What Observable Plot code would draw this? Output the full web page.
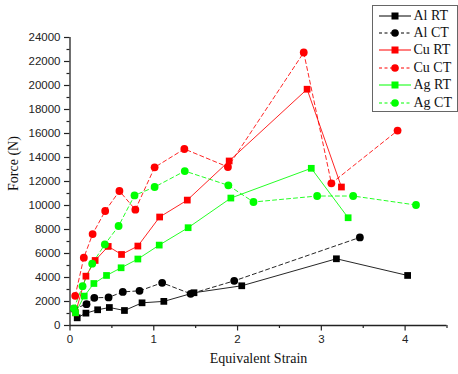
<!DOCTYPE html>
<html>
<head>
<meta charset="utf-8">
<script src="https://cdn.jsdelivr.net/npm/d3@7"></script>
<script src="https://cdn.jsdelivr.net/npm/@observablehq/plot@0.6"></script>
<style>
  html, body { margin: 0; padding: 0; background: #fff; }
  #wrap { position: relative; width: 458px; height: 374px; overflow: hidden; }
  #legend { position: absolute; left: 371.5px; top: 4.5px; width: 86px; height: 107px; box-sizing: border-box;
    border: 1px solid #666; background: #fff; padding-top: 1.5px; font-family: "Liberation Serif", "Times New Roman", serif; font-size: 14px; color: #111; }
  .row { height: 17.4px; display: flex; align-items: center; }
  .row svg { margin-left: 6px; margin-right: 3px; flex: none; }
</style>
</head>
<body>
<div id="wrap"><div id="legend"></div></div>
<script>
// Series values
const alRT_x = [0.086, 0.19, 0.33, 0.47, 0.65, 0.86, 1.12, 1.48, 2.05, 3.18, 4.03];
const alRT_y = [640, 1030, 1310, 1500, 1250, 1890, 2010, 2730, 3310, 5560, 4170];
const alCT_x = [0.048, 0.197, 0.29, 0.46, 0.63, 0.83, 1.10, 1.44, 1.96, 3.46];
const alCT_y = [1380, 1780, 2310, 2340, 2800, 2890, 3560, 2640, 3720, 7340];
const cuRT_x = [0.066, 0.19, 0.30, 0.456, 0.615, 0.81, 1.07, 1.40, 1.90, 2.83, 3.24];
const cuRT_y = [1060, 4110, 5420, 6590, 5920, 6620, 9040, 10450, 13710, 19690, 11540];
const cuCT_x = [0.062, 0.165, 0.27, 0.42, 0.59, 0.78, 1.01, 1.365, 1.885, 2.79, 3.12, 3.91];
const cuCT_y = [2470, 5650, 7620, 9540, 11210, 9650, 13180, 14710, 13210, 22750, 11850, 16240];
const agRT_x = [0.066, 0.17, 0.285, 0.436, 0.61, 0.81, 1.065, 1.41, 1.92, 2.88, 3.32];
const agRT_y = [1060, 2450, 3500, 4170, 4810, 5540, 6700, 8150, 10620, 13100, 8980];
const agCT_x = [0.046, 0.15, 0.265, 0.416, 0.58, 0.77, 1.01, 1.37, 1.89, 2.19, 2.95, 3.38, 4.13];
const agCT_y = [1420, 3280, 5150, 6760, 8290, 10840, 11540, 12870, 11680, 10290, 10790, 10790, 10040];

const seriesNames = ["Al RT", "Al CT", "Cu RT", "Cu CT", "Ag RT", "Ag CT"];
const seriesColors = ["#000000", "#000000", "#ff0000", "#ff0000", "#00ff00", "#00ff00"];
const xMajorTicks = [0, 1, 2, 3, 4];
const xMinorTicks = [0.5, 1.5, 2.5, 3.5, 4.5];
const yMajorTicks = [0, 2000, 4000, 6000, 8000, 10000, 12000, 14000, 16000, 18000, 20000, 22000, 24000];
const yMinorTicks = [1000, 3000, 5000, 7000, 9000, 11000, 13000, 15000, 17000, 19000, 21000, 23000];

const xs = [alRT_x, alCT_x, cuRT_x, cuCT_x, agRT_x, agCT_x];
const ys = [alRT_y, alCT_y, cuRT_y, cuCT_y, agRT_y, agCT_y];
const series = seriesNames.map((name, i) => ({
  name, color: seriesColors[i], dashed: name.endsWith("CT"),
  symbol: name.endsWith("CT") ? "circle" : "square",
  data: xs[i].map((x, j) => ({x, y: ys[i][j]}))
}));

const order = [0, 1, 2, 3, 4, 5];
const dataMarks = [];
for (const i of order) {
  const s = series[i];
  dataMarks.push(Plot.line(s.data, {x: "x", y: "y", stroke: s.color, strokeWidth: 1, strokeOpacity: 0.85,
    strokeDasharray: s.dashed ? "4,3" : null}));
}
for (const i of order) {
  const s = series[i];
  dataMarks.push(Plot.dot(s.data, {x: "x", y: "y", fill: s.color, stroke: "none", symbol: s.symbol,
    r: s.symbol === "circle" ? 3.9 : 3.8}));
}

const chart = Plot.plot({
  width: 458, height: 374,
  marginLeft: 69.5, marginRight: 11.5, marginTop: 37, marginBottom: 49,
  x: {domain: [0, 4.5]},
  y: {domain: [0, 24000]},
  style: {fontFamily: "'Liberation Sans', Arial, sans-serif", fontSize: "11.5px", color: "#222", background: "#fff", overflow: "visible"},
  marks: [
    Plot.axisX({ticks: xMinorTicks, tickSize: 3, tickFormat: () => "", label: null, stroke: "#222", strokeWidth: 1.2}),
    Plot.axisX({ticks: xMajorTicks, tickSize: 5.5, tickPadding: 4, tickFormat: d3.format("d"), label: null, stroke: "#222", strokeWidth: 1.2}),
    Plot.axisY({ticks: yMinorTicks, tickSize: 3, tickFormat: () => "", label: null, stroke: "#222", strokeWidth: 1.2}),
    Plot.axisY({ticks: yMajorTicks, tickSize: 5.5, tickPadding: 4, tickFormat: d3.format("d"), label: null, stroke: "#222", strokeWidth: 1.2}),
    Plot.ruleY([0], {stroke: "#222", strokeWidth: 1.3}),
    Plot.ruleX([0], {stroke: "#222", strokeWidth: 1.3}),
    ...dataMarks,
    Plot.text(["Equivalent Strain"], {frameAnchor: "bottom", dy: 37, fontFamily: "'Liberation Serif', 'Times New Roman', serif", fontSize: 14, fill: "#111"}),
    Plot.text(["Force (N)"], {frameAnchor: "left", dx: -56.5, dy: 9.5, rotate: -90, fontFamily: "'Liberation Serif', 'Times New Roman', serif", fontSize: 14, fill: "#111"})
  ]
});
document.getElementById("wrap").prepend(chart);

// Legend
const legend = d3.select("#legend");
for (const s of series) {
  const row = legend.append("div").attr("class", "row");
  const svg = row.append("svg").attr("width", 32).attr("height", 12);
  svg.append("line").attr("x1", 0).attr("x2", 32).attr("y1", 6).attr("y2", 6)
    .attr("stroke", s.color).attr("stroke-width", 1).attr("stroke-dasharray", s.dashed ? "3,2.5" : null);
  if (s.symbol === "circle") svg.append("circle").attr("cx", 16).attr("cy", 6).attr("r", 3.8).attr("fill", s.color);
  else svg.append("rect").attr("x", 12.5).attr("y", 2.5).attr("width", 7).attr("height", 7).attr("fill", s.color);
  row.append("span").text(s.name);
}
</script>
</body>
</html>
